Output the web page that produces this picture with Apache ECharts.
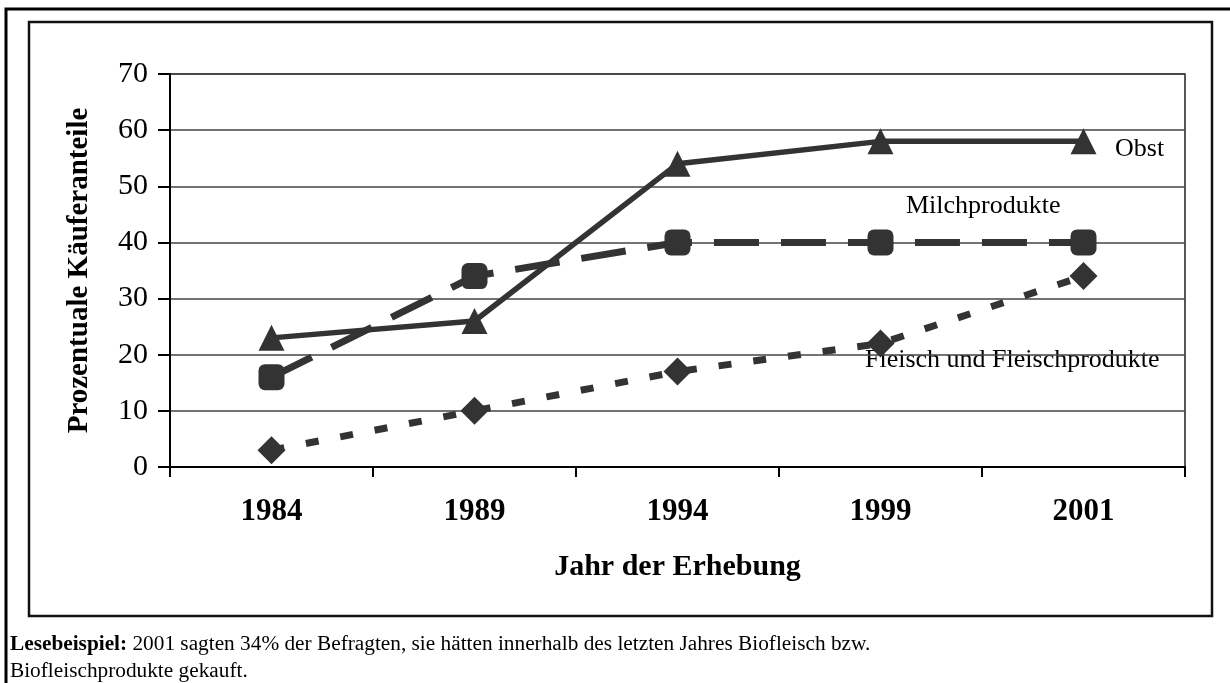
<!DOCTYPE html>
<html>
<head>
<meta charset="utf-8">
<script src="https://cdn.jsdelivr.net/npm/echarts@6/dist/echarts.min.js"></script>
<style>html,body{margin:0;padding:0;background:#fff}#c{width:1230px;height:683px}</style>
</head>
<body>
<div id="c"></div>
<script>
const categories = ['1984', '1989', '1994', '1999', '2001'];
const obst = [23, 26, 54, 58, 58];
const milch = [16, 34, 40, 40, 40];
const fleisch = [3, 10, 17, 22, 34];
const yTicks = [0, 10, 20, 30, 40, 50, 60, 70];

const F = '"Liberation Serif", "Times New Roman", serif';
const C = '#333333';
const chart = echarts.init(document.getElementById('c'), null, {renderer: 'canvas'});
chart.setOption({
  animation: false,
  backgroundColor: '#fff',
  grid: {left: 170, right: 45, top: 74, bottom: 216, show: true, borderColor: '#222', borderWidth: 1.5, backgroundColor: 'transparent'},
  xAxis: {
    type: 'category', data: categories, boundaryGap: true,
    axisLine: {lineStyle: {color: '#000', width: 2}},
    axisTick: {show: true, inside: false, length: 10, lineStyle: {color: '#000', width: 2}},
    axisLabel: {fontFamily: F, fontSize: 31, fontWeight: 'bold', color: '#000', margin: 29},
    name: 'Jahr der Erhebung', nameLocation: 'middle', nameGap: 85,
    nameTextStyle: {fontFamily: F, fontSize: 30, fontWeight: 'bold', color: '#000'}
  },
  yAxis: {
    type: 'value', min: yTicks[0], max: yTicks[yTicks.length - 1], interval: 10,
    axisLine: {show: true, lineStyle: {color: '#000', width: 2}},
    axisTick: {show: true, inside: false, length: 12, lineStyle: {color: '#000', width: 2}},
    axisLabel: {fontFamily: F, fontSize: 30, color: '#000', margin: 22},
    splitLine: {show: true, lineStyle: {color: '#444', width: 1.5}},
    name: 'Prozentuale Käuferanteile', nameLocation: 'middle', nameGap: 76,
    nameTextStyle: {fontFamily: F, fontSize: 29, fontWeight: 'bold', color: '#000'}
  },
  series: [
    {name: 'Obst', type: 'line', data: obst, symbol: 'triangle', symbolSize: 26,
     lineStyle: {color: C, width: 5.5}, itemStyle: {color: C}, z: 3},
    {name: 'Milchprodukte', type: 'line', data: milch, symbol: 'roundRect', symbolSize: 26,
     lineStyle: {color: C, width: 7, type: [45, 22]}, itemStyle: {color: C}, z: 2},
    {name: 'Fleisch und Fleischprodukte', type: 'line', data: fleisch, symbol: 'diamond', symbolSize: 28,
     lineStyle: {color: C, width: 7, type: [13, 22]}, itemStyle: {color: C}, z: 2}
  ],
  graphic: [
    {type: 'rect', shape: {x: 6, y: 9, width: 1240, height: 700}, style: {fill: 'none', stroke: '#000', lineWidth: 3}, silent: true},
    {type: 'rect', shape: {x: 29, y: 22, width: 1183, height: 594}, style: {fill: 'none', stroke: '#111', lineWidth: 2.5}, silent: true},
    {type: 'text', left: 1115, top: 136, style: {text: 'Obst', font: '26px ' + F, fill: '#000'}, silent: true},
    {type: 'text', left: 906, top: 193, style: {text: 'Milchprodukte', font: '26px ' + F, fill: '#000'}, silent: true},
    {type: 'text', left: 865, top: 347, style: {text: 'Fleisch und Fleischprodukte', font: '26px ' + F, fill: '#000'}, silent: true},
    {type: 'text', left: 10, top: 631, style: {
      text: '{b|Lesebeispiel:} 2001 sagten 34% der Befragten, sie hätten innerhalb des letzten Jahres Biofleisch bzw.\nBiofleischprodukte gekauft.',
      font: '21.3px ' + F, fill: '#000', lineHeight: 27,
      rich: {b: {fontWeight: 'bold', fontFamily: F, fontSize: 21.3, lineHeight: 27, fill: '#000'}}
    }, silent: true}
  ]
});
</script>
</body>
</html>
